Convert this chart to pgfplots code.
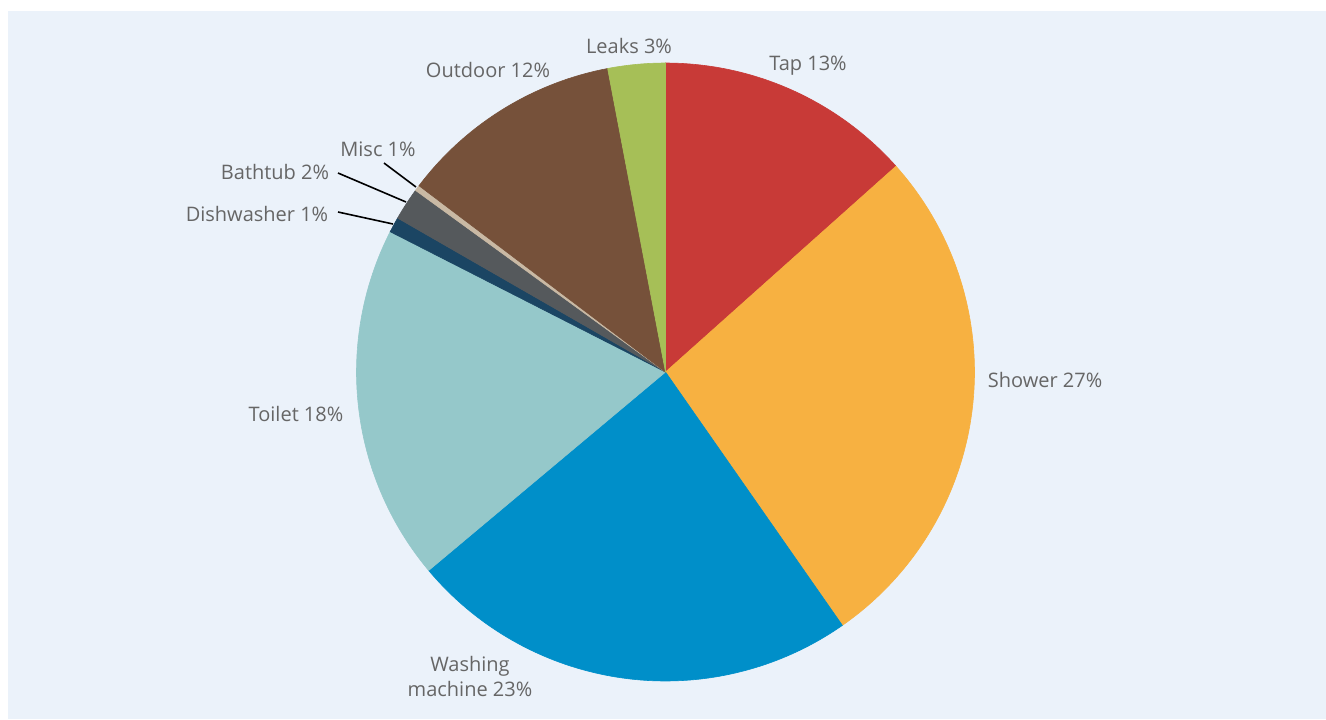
\documentclass[border=0pt]{standalone}
\usepackage{pgfplots}
\usepackage{pgfplotstable}
\pgfplotsset{compat=1.18}
\usepackage{fontspec}
\setmainfont{Open Sans}
\definecolor{bgblue}{HTML}{EBF2FA}
\definecolor{txtgray}{HTML}{666666}
\definecolor{cTap}{HTML}{C83A37}
\definecolor{cShower}{HTML}{F7B141}
\definecolor{cWash}{HTML}{008FC9}
\definecolor{cToilet}{HTML}{95C8CA}
\definecolor{cDish}{HTML}{1B4563}
\definecolor{cBath}{HTML}{55595C}
\definecolor{cMisc}{HTML}{C9B9A4}
\definecolor{cOut}{HTML}{76513A}
\definecolor{cLeaks}{HTML}{A6BF57}
\pgfplotstableread{
name pct col
Tap 13.4 cTap
Shower 26.9 cShower
Washing 23.6 cWash
Toilet 18.6 cToilet
Dishwasher 0.8 cDish
Bathtub 1.7 cBath
Misc 0.3 cMisc
Outdoor 11.7 cOut
Leaks 3.0 cLeaks
}\piedata
\begin{document}
\begin{tikzpicture}
\begin{axis}[
  hide axis, scale only axis, width=663pt, height=359.5pt,
  xmin=0, xmax=1326, ymin=0, ymax=719, y dir=reverse,
  clip=false]
\fill[white] (axis cs:0,0) rectangle (axis cs:1326,719);
\fill[bgblue] (axis cs:8,11) rectangle (axis cs:1326,719);
\def\curang{90}
\pgfplotsforeachungrouped \i in {0,...,8} {
  \pgfplotstablegetelem{\i}{pct}\of\piedata \let\pct\pgfplotsretval
  \pgfplotstablegetelem{\i}{col}\of\piedata \let\col\pgfplotsretval
  \pgfmathsetmacro\stopang{\curang-3.6*\pct}
  \edef\temp{\noexpand\addplot[fill=\col, draw=\col, line width=0.3pt, domain=\stopang:\curang, samples=80] ({665.5+309*cos(x)},{372-309*sin(x)}) -- (axis cs:665.5,372) -- cycle;}
  \temp
  \global\let\curang\stopang
}
\tikzset{lab/.style={text=txtgray, font=\fontsize{10}{12.5}\selectfont, inner sep=0pt}}
\node[lab] at (axis cs:808,66) {Tap 13\%};
\node[lab] at (axis cs:629,46) {Leaks 3\%};
\node[lab] at (axis cs:488,70) {Outdoor 12\%};
\node[lab] at (axis cs:378,149) {Misc 1\%};
\node[lab] at (axis cs:275,172) {Bathtub 2\%};
\node[lab] at (axis cs:257,214) {Dishwasher 1\%};
\node[lab] at (axis cs:1045,380) {Shower 27\%};
\node[lab] at (axis cs:296,414) {Toilet 18\%};
\node[lab, align=center] at (axis cs:470,676) {Washing\\machine 23\%};
\draw[black, line width=0.8pt] (axis cs:384,163) -- (axis cs:416,187);
\draw[black, line width=0.8pt] (axis cs:338,173) -- (axis cs:406,202);
\draw[black, line width=0.8pt] (axis cs:338,212) -- (axis cs:393,224);
\end{axis}
\end{tikzpicture}
\end{document}
